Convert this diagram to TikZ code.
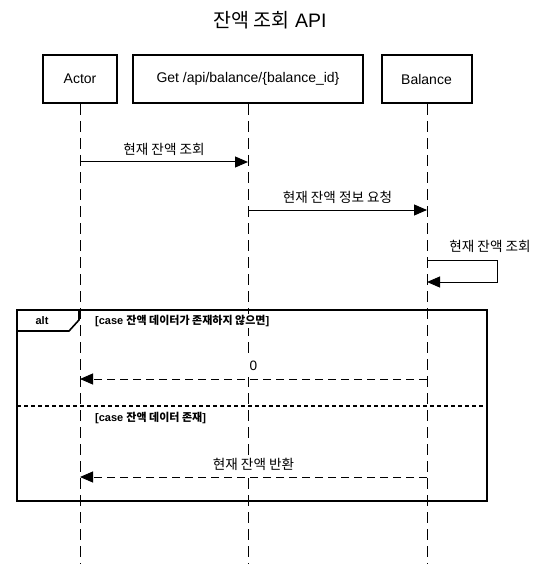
\documentclass[tikz,border=0pt]{standalone}
\usepackage{fontspec}
\setmainfont{Liberation Sans}
\newfontfamily\cjk{Noto Sans CJK KR}
\usetikzlibrary{arrows.meta}
\tikzset{
  partbox/.style={draw, line width=2pt, minimum height=48pt, inner sep=0pt, font=\fontsize{14}{16}\selectfont},
  life/.style={line width=1pt, dash pattern=on 11pt off 6pt},
  msg/.style={line width=1pt, -{Triangle[length=13pt,width=11pt]}},
  ret/.style={msg, dash pattern=on 8pt off 5pt},
  lbl/.style={fill=white, inner sep=2pt, font=\fontsize{13.6}{15}\selectfont},
  caselbl/.style={anchor=west, fill=white, inner sep=1pt, font=\bfseries\fontsize{11}{12}\selectfont},
  frame/.style={line width=1.6pt},
}
\begin{document}
\begin{tikzpicture}[x=1pt,y=-1pt]
\useasboundingbox (0,0) rectangle (542,564);
% title
\node[font=\fontsize{19.5}{22}\selectfont] (title) at (270,20) {{\cjk 잔액 조회} API};
% participants
\node[partbox, minimum width=74pt] (actor) at (80,79) {Actor};
\node[partbox, minimum width=230pt] (get) at (248,79) {Get /api/balance/\{balance\_id\}};
\node[partbox, minimum width=90pt] (bal) at (426.5,79) {Balance};
% lifelines
\coordinate (actorEnd) at (80,564);
\coordinate (getEnd) at (248,564);
\coordinate (balEnd) at (427,564);
\draw[life] (actor.south) -- (actorEnd);
\draw[life] (get.south) -- (getEnd);
\draw[life] (bal.south -| balEnd) -- (balEnd);
% message coordinates
\coordinate (m1a) at (80,162); \coordinate (m1b) at (248,162);
\coordinate (m2a) at (248,210); \coordinate (m2b) at (427,210);
\coordinate (s1) at (427,260); \coordinate (s2) at (497,260);
\coordinate (s3) at (497,282); \coordinate (s4) at (427,282);
\coordinate (r1a) at (427,379); \coordinate (r1b) at (80,379);
\coordinate (r2a) at (427,477); \coordinate (r2b) at (80,477);
% messages
\draw[msg] (m1a) -- (m1b);
\node[lbl] (l1) at (164,149.5) {\cjk 현재 잔액 조회};
\draw[msg] (m2a) -- (m2b);
\node[lbl] (l2) at (337.5,197.5) {\cjk 현재 잔액 정보 요청};
\draw[msg] (s1) -- (s2) -- (s3) -- (s4);
\node[lbl] (l3) at (490,246.5) {\cjk 현재 잔액 조회};
% alt frame
\coordinate (fa) at (17,310); \coordinate (fb) at (487,501);
\draw[frame] (fa) rectangle (fb);
\coordinate (t1) at (17,331); \coordinate (t2) at (69,331);
\coordinate (t3) at (79,320); \coordinate (t4) at (79,310);
\draw[frame] (t1) -- (t2) -- (t3) -- (t4);
\node[font=\bfseries\fontsize{11}{13}\selectfont] (alt) at (42,320.5) {alt};
\node[caselbl] (c1) at (94,321) {[case {\cjk 잔액 데이터가 존재하지 않으면}]};
\coordinate (d1) at (17,406); \coordinate (d2) at (487,406);
\draw[line width=2pt, dash pattern=on 4pt off 3pt] (d1) -- (d2);
\node[caselbl] (c2) at (94,418) {[case {\cjk 잔액 데이터 존재}]};
% returns
\draw[ret] (r1a) -- (r1b);
\node[lbl, inner ysep=6pt] (l4) at (253.5,366) {0};
\draw[ret] (r2a) -- (r2b);
\node[lbl] (l5) at (253.5,464) {\cjk 현재 잔액 반환};
\end{tikzpicture}
\end{document}
